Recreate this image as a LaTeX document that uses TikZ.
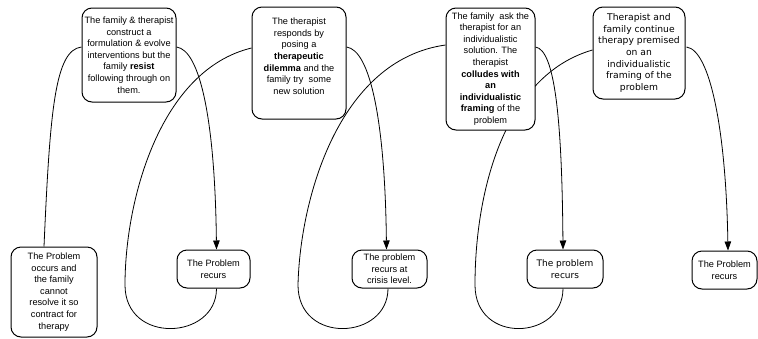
\documentclass[tikz,border=0pt]{standalone}
\usepackage{fontspec}
\setmainfont{Liberation Sans}
\newfontfamily\dvfont{DejaVu Sans}
\usetikzlibrary{arrows.meta,calc,backgrounds}
\begin{document}
\begin{tikzpicture}[x=1pt,y=-1pt,
  box/.style={draw,line width=1pt,rounded corners=10pt,fill=white,align=center,inner sep=1pt,font=\fontsize{9.2}{11.6}\selectfont},
  dvbox/.style={box,font=\dvfont\fontsize{9.2}{11.6}\selectfont},
  conn/.style={line width=0.8pt},
  arr/.style={conn,-{Triangle[length=9pt,width=6.5pt]}}]
\useasboundingbox (0,0) rectangle (758,338);

\node[box,minimum width=94pt,minimum height=94pt] (A) at (129,55)
 {The family \& therapist\\construct a\\formulation \& evolve\\interventions but the\\family \textbf{resist}\\following through on\\them.};
\node[box,minimum width=94pt,minimum height=112pt] (B) at (299,63)
 {The therapist\\responds by\\posing a\\\textbf{therapeutic}\\\textbf{dilemma} and the\\family try\ \ some\\new solution\\[2pt]\mbox{}};
\node[box,minimum width=89pt,minimum height=122pt] (C) at (490.5,69)
 {The family\ \ ask the\\therapist for an\\individualistic\\solution. The\\therapist\\\textbf{colludes with}\\\textbf{an}\\\textbf{individualistic}\\\textbf{framing} of the\\problem};
\node[dvbox,minimum width=92pt,minimum height=92pt] (D) at (639,53)
 {Therapist and\\family continue\\therapy premised\\on an\\individualistic\\framing of the\\problem};
\node[box,minimum width=86pt,minimum height=90pt] (P0) at (54,292)
 {The Problem\\occurs and\\the family\\cannot\\resolve it so\\contract for\\therapy};
\node[box,minimum width=73pt,minimum height=38pt] (R1) at (213.5,269) {The Problem\\recurs};
\node[box,minimum width=75pt,minimum height=38pt] (R2) at (389.5,269) {The problem\\recurs at\\crisis level.};
\node[dvbox,minimum width=76pt,minimum height=38pt,font=\dvfont\fontsize{9}{11.6}\selectfont] (R3) at (565,269) {The problem\\recurs};
\node[box,minimum width=65pt,minimum height=38pt] (R4) at (724.5,270) {The Problem\\recurs};

\begin{scope}[on background layer]
\draw[conn] ($(P0.north)+(-10,0)$) .. controls (50,110) and (55,50) .. ($(A.west)+(0,-8)$);
\draw[arr] ($(A.east)+(0,-8)$) .. controls (200,50) and (215,120) .. ($(R1.north)+(3,0)$);
\draw[conn] ($(R1.south)+(3,0)$) .. controls (216.5,340) and (125,345) .. (125,285)
  .. controls (125,200) and (160,70) .. ($(B.west)+(0,-15)$);
\draw[arr] ($(B.east)+(0,-16)$) .. controls (370,50) and (385,120) .. ($(R2.north)+(-3,0)$);
\draw[conn] ($(R2.south)+(-1.5,0)$) .. controls (388,340) and (298,345) .. (298,285)
  .. controls (300,200) and (338,60) .. ($(C.west)+(0,-24)$);
\draw[arr] ($(C.east)+(0,-22)$) .. controls (555,50) and (562,120) .. ($(R3.north)+(-2,0)$);
\draw[conn] ($(R3.south)+(-2,0)$) .. controls (563,340) and (475,345) .. (475,285)
  .. controls (475,190) and (505,75) .. ($(D.west)+(0,-3)$);
\draw[arr] ($(D.east)+(1,-6)$) .. controls (710,50) and (726,130) .. ($(R4.north)+(3.5,0)$);
\end{scope}
\end{tikzpicture}
\end{document}
